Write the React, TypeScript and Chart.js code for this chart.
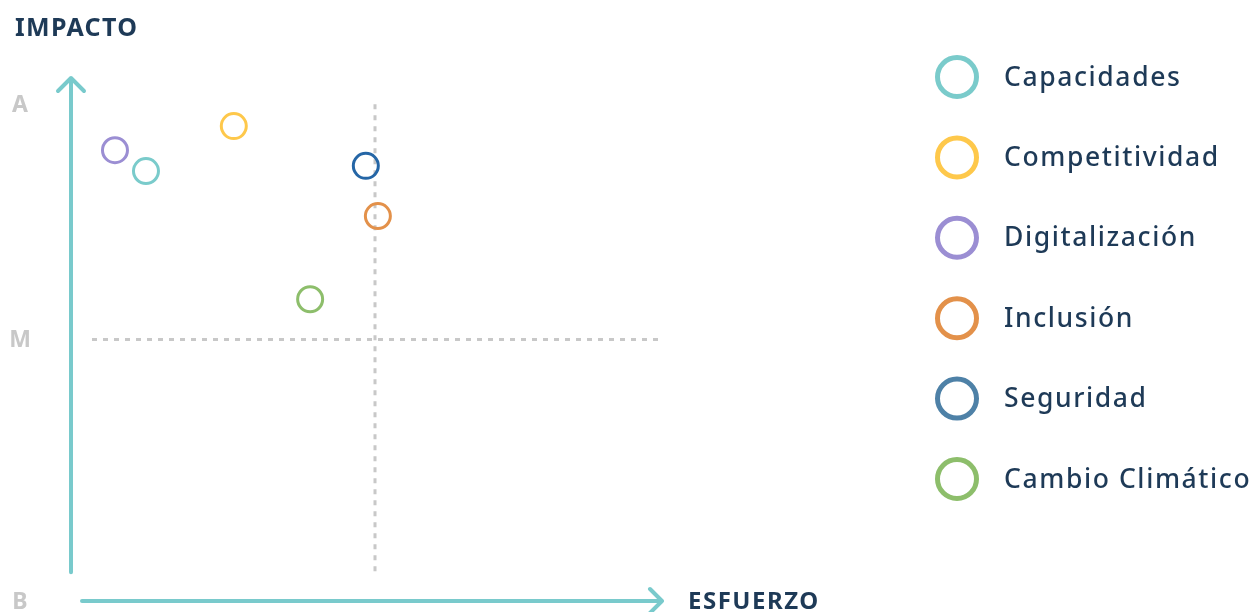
import React, { useEffect, useRef } from "react";
import { Chart, registerables } from "chart.js";

Chart.register(...registerables);

const categories = ["Capacidades", "Competitividad", "Digitalización", "Inclusión", "Seguridad", "Cambio Climático"];
const esfuerzo = [1.01, 2.54, 0.47, 5.05, 4.84, 3.87];
const impacto = [8.22, 9.08, 8.62, 7.36, 8.32, 5.77];
const pointColors = ["#7ACBCB", "#FEC84B", "#9B8ED3", "#E3914A", "#2566A6", "#8DBE6B"];
const legendColors = ["#7ACBCB", "#FEC84B", "#9B8ED3", "#E3914A", "#4E81A7", "#8DBE6B"];
const yTickValues = [0, 5, 9.5];
const yTickLabels = ["B", "M", "A"];
const midX = 5;
const midY = 5;
const yAxisTitle = "IMPACTO";
const xAxisTitle = "ESFUERZO";

const FONT = "'Noto Sans', 'Open Sans', sans-serif";
const TEAL = "#79CACC";
const DARK = "#1E3A57";
const GRAY = "#C8C8C8";

const decorPlugin = {
  id: "decor",
  beforeDatasetsDraw(chart: any) {
    const { ctx, chartArea, scales } = chart;
    const xs = scales.x;
    const ys = scales.y;
    ctx.save();
    ctx.strokeStyle = GRAY;
    ctx.lineWidth = 3;
    ctx.setLineDash([5, 6]);
    const yM = ys.getPixelForValue(midY);
    ctx.beginPath();
    ctx.moveTo(chartArea.left + 4, yM);
    ctx.lineTo(chartArea.right, yM);
    ctx.stroke();
    const xM = xs.getPixelForValue(midX);
    ctx.beginPath();
    ctx.moveTo(xM, ys.getPixelForValue(9.5));
    ctx.lineTo(xM, ys.getPixelForValue(0.55));
    ctx.stroke();
    ctx.setLineDash([]);

    ctx.strokeStyle = TEAL;
    ctx.lineWidth = 4;
    ctx.lineCap = "round";
    ctx.lineJoin = "round";
    const ax = chartArea.left - 17;
    const top = chartArea.top;
    ctx.beginPath();
    ctx.moveTo(ax, ys.getPixelForValue(0.55));
    ctx.lineTo(ax, top);
    ctx.moveTo(ax - 13, top + 13);
    ctx.lineTo(ax, top);
    ctx.lineTo(ax + 13, top + 13);
    ctx.stroke();
    const ay = chartArea.bottom;
    const right = chartArea.right;
    ctx.beginPath();
    ctx.moveTo(chartArea.left - 6, ay);
    ctx.lineTo(right, ay);
    ctx.moveTo(right - 12, ay - 12);
    ctx.lineTo(right, ay);
    ctx.lineTo(right - 12, ay + 12);
    ctx.stroke();

    ctx.fillStyle = GRAY;
    ctx.font = `bold 23px ${FONT}`;
    ctx.textAlign = "center";
    ctx.textBaseline = "middle";
    yTickValues.forEach((v, i) => {
      ctx.fillText(yTickLabels[i], 20, ys.getPixelForValue(v) + 1);
    });

    ctx.fillStyle = DARK;
    ctx.textAlign = "left";
    ctx.textBaseline = "middle";
    ctx.letterSpacing = "1.3px";
    ctx.font = `bold 25px ${FONT}`;
    ctx.fillText(yAxisTitle, 15, 29);
    ctx.letterSpacing = "1.5px";
    ctx.font = `bold 24px ${FONT}`;
    ctx.fillText(xAxisTitle, right + 26, ay + 1);

    const lx = 957;
    const ly0 = 77;
    const step = 80.4;
    ctx.letterSpacing = "1.6px";
    categories.forEach((c, i) => {
      const cy = ly0 + i * step;
      ctx.strokeStyle = legendColors[i];
      ctx.lineWidth = 5;
      ctx.beginPath();
      ctx.arc(lx, cy, 19.5, 0, Math.PI * 2);
      ctx.stroke();
      ctx.fillStyle = DARK;
      ctx.font = `500 26.5px ${FONT}`;
      ctx.textAlign = "left";
      ctx.textBaseline = "middle";
      ctx.fillText(c, 1004, cy + 1);
    });
    ctx.restore();
  },
};

export default function App() {
  const ref = useRef<HTMLCanvasElement | null>(null);
  useEffect(() => {
    if (!ref.current) return;
    const chart = new Chart(ref.current, {
      type: "scatter",
      data: {
        datasets: categories.map((c, i) => ({
          label: c,
          data: [{ x: esfuerzo[i], y: impacto[i] }],
          pointRadius: 12.5,
          pointHoverRadius: 12.5,
          pointBorderWidth: 3,
          pointBorderColor: pointColors[i],
          pointBackgroundColor: "rgba(0,0,0,0)",
          borderColor: pointColors[i],
          backgroundColor: "rgba(0,0,0,0)",
          clip: false,
        })),
      },
      options: {
        animation: false,
        responsive: false,
        maintainAspectRatio: false,
        layout: { autoPadding: false, padding: { left: 88, right: 592, top: 78, bottom: 11 } },
        scales: {
          x: { type: "linear", min: 0, max: 10, display: false },
          y: { type: "linear", min: 0, max: 10, display: false },
        },
        plugins: { legend: { display: false }, tooltip: { enabled: false } },
      },
      plugins: [decorPlugin],
    });
    return () => chart.destroy();
  }, []);
  return (
    <div style={{ position: "absolute", left: 0, top: 0, width: 1254, height: 612 }}>
      <canvas ref={ref} width={1254} height={612} style={{ width: 1254, height: 612 }} />
    </div>
  );
}
